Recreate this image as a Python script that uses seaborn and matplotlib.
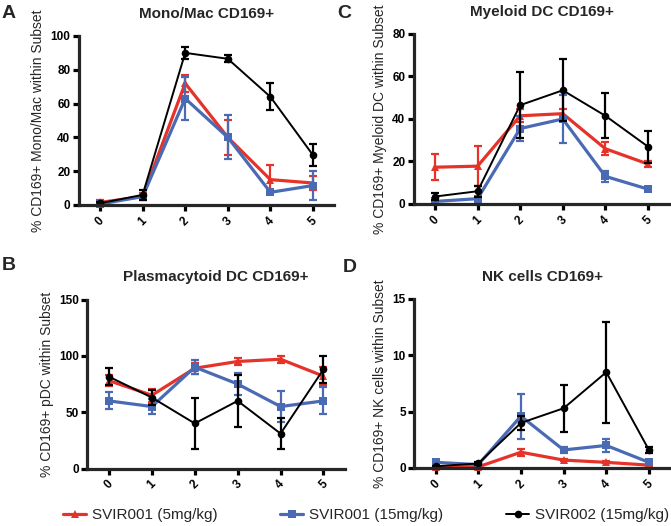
import matplotlib
matplotlib.use("Agg")
import matplotlib.pyplot as plt
import pandas as pd
import seaborn as sns
import numpy as np

# Data
days = [0, 1, 2, 3, 4, 5]
groups = ['SVIR001 (5mg/kg)', 'SVIR001 (15mg/kg)', 'SVIR002 (15mg/kg)']

mono_mean = [[1.5, 5, 72, 40, 15, 13],
             [0.5, 5, 63, 40, 7.5, 11.5],
             [1, 6, 90, 86.5, 64, 29.5]]
mono_err = [[1.5, 2, 5, 10.5, 8.5, 4],
            [0.5, 1.5, 13, 13, 1, 8.5],
            [0.8, 3, 3.5, 2, 8, 6.5]]

mdc_mean = [[17.3, 17.8, 41.5, 42.5, 26, 18.8],
            [1.2, 2.5, 35.5, 40, 13, 7],
            [3.5, 6, 46.5, 53.5, 41.5, 27]]
mdc_err = [[6, 9.5, 3, 2, 3, 1.5],
           [0.5, 1, 6, 11.5, 2.5, 1],
           [1.5, 2.5, 15.5, 14.5, 10.5, 7.5]]

pdc_mean = [[78, 65, 89, 95, 97, 82],
            [60, 55, 90, 75, 55, 60],
            [81.5, 63, 40, 60, 31, 88]]
pdc_err = [[5, 6, 5, 3, 3, 8],
           [7.5, 7, 6, 10, 13.5, 12],
           [7.5, 7, 23, 23, 14, 12]]

nk_mean = [[0.1, 0.1, 1.4, 0.7, 0.5, 0.25],
           [0.5, 0.3, 4.6, 1.6, 2.0, 0.5],
           [0.15, 0.4, 4.0, 5.3, 8.5, 1.6]]
nk_err = [[0.05, 0.05, 0.3, 0.1, 0.1, 0.1],
          [0.15, 0.1, 2.0, 0.3, 0.6, 0.2],
          [0.05, 0.1, 0.6, 2.1, 4.5, 0.3]]

colors = ['#e5332a', '#4a6bb3', '#000000']
markers = ['^', 's', 'o']
lwidths = [2.3, 2.3, 1.4]
msizes = [6, 5.5, 5.5]

sns.set_style("ticks")
plt.rcParams['font.family'] = ['Liberation Sans', 'DejaVu Sans']

fig = plt.figure(figsize=(6.71, 5.26), dpi=100)

panels = [
    ('A', 'Mono/Mac CD169+', '% CD169+ Mono/Mac within Subset', mono_mean, mono_err,
     [0.1173, 0.6103, 0.3809, 0.3213], (0, 100), [0, 20, 40, 60, 80, 100], (0.003, 0.975)),
    ('C', 'Myeloid DC CD169+', '% CD169+ Myeloid DC within Subset', mdc_mean, mdc_err,
     [0.6165, 0.6122, 0.3809, 0.3232], (0, 80), [0, 20, 40, 60, 80], (0.503, 0.975)),
    ('B', 'Plasmacytoid DC CD169+', '% CD169+ pDC within Subset', pdc_mean, pdc_err,
     [0.1304, 0.1093, 0.3836, 0.3213], (0, 150), [0, 50, 100, 150], (0.003, 0.495)),
    ('D', 'NK cells CD169+', '% CD169+ NK cells within Subset', nk_mean, nk_err,
     [0.6174, 0.1103, 0.3815, 0.3213], (0, 15), [0, 5, 10, 15], (0.511, 0.492)),
]

for letter, title, ylabel, means, errs, pos, ylim, yticks, lpos in panels:
    ax = fig.add_axes(pos)
    rows = []
    for g, m in zip(groups, means):
        for d, v in zip(days, m):
            rows.append({'day': d, 'value': v, 'group': g})
    df = pd.DataFrame(rows)
    for i, g in enumerate(groups):
        sub = df[df['group'] == g]
        sns.lineplot(data=sub, x='day', y='value', ax=ax, color=colors[i],
                     marker=markers[i], markersize=msizes[i], markeredgewidth=0,
                     linewidth=lwidths[i], legend=False, clip_on=False)
        ax.errorbar(days, means[i], yerr=errs[i], fmt='none', ecolor=colors[i],
                    elinewidth=1.6, capsize=3, capthick=1.6, clip_on=False)
    ax.set_xlim(-0.5, 5.5)
    ax.set_ylim(*ylim)
    ax.set_yticks(yticks)
    ax.set_xticks(days)
    ax.set_xticklabels([str(d) for d in days], rotation=45, fontweight='bold', fontsize=8.5)
    ax.set_yticklabels([str(t) for t in yticks], fontweight='bold', fontsize=8.5)
    ax.set_xlabel('')
    ax.set_ylabel(ylabel, fontsize=10)
    ax.set_title(title, fontsize=11, fontweight='bold', pad=13)
    sns.despine(ax=ax)
    for s in ['left', 'bottom']:
        ax.spines[s].set_linewidth(2.3)
    ax.tick_params(axis='both', length=4, width=2.3, pad=2, colors='black')
    ax.tick_params(axis='x', pad=3)
    fig.text(lpos[0], lpos[1], letter, fontsize=14, fontweight='bold', va='center', ha='left')

leg_handles = []
for i, g in enumerate(groups):
    h, = plt.plot([], [], color=colors[i], marker=markers[i], markersize=msizes[i],
                  markeredgewidth=0, linewidth=lwidths[i])
    leg_handles.append(h)
fig.legend(leg_handles, groups, loc='center left', bbox_to_anchor=(0.094, 0.021),
           ncol=3, frameon=False, fontsize=11, handlelength=1.5, handletextpad=0.4,
           columnspacing=4.1, borderaxespad=0, borderpad=0)

fig.savefig('out.png', dpi=100)
